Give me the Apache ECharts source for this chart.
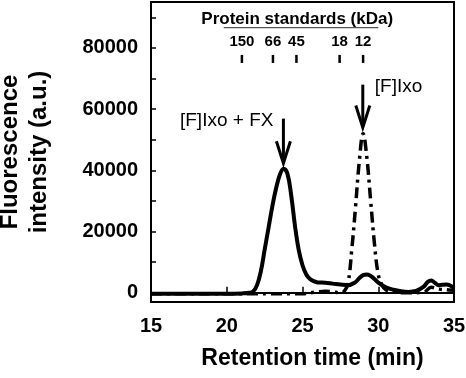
<!DOCTYPE html>
<html>
<head>
<meta charset="utf-8">
<script src="https://cdn.jsdelivr.net/npm/echarts@6/dist/echarts.min.js"></script>
<style>
  html, body { margin: 0; padding: 0; background: #fff; }
  #chart { width: 466px; height: 378px; }
</style>
</head>
<body>
<div id="chart"></div>
<script>
// retention time (min) / fluorescence (a.u.)
var complexTimes = [15, 16, 17, 18, 19, 20, 21, 21.5, 21.75, 22, 22.25, 22.5, 22.75, 23, 23.25, 23.5, 23.75, 24, 24.25, 24.5, 24.75, 25, 25.25, 25.5, 25.75, 26, 26.5, 27, 27.5, 28, 28.5, 28.75, 29, 29.25, 29.5, 29.75, 30, 30.5, 31, 31.5, 32, 32.5, 33, 33.25, 33.5, 33.75, 34, 34.5, 35];
var complexValues = [-300, -300, -300, -300, -300, -300, -200, 0, 500, 2500, 7000, 14000, 21000, 28000, 34000, 38500, 40500, 39000, 32000, 22000, 14000, 9000, 6000, 4500, 3800, 3400, 3300, 3000, 2700, 2500, 3500, 4800, 5800, 6000, 5500, 4500, 3300, 1800, 1000, 500, 300, 600, 2000, 3500, 4000, 3200, 2500, 2700, 1500];

var ixoTimes = [15, 17, 19, 21, 23, 25, 25.5, 26, 26.5, 27, 27.5, 27.75, 28, 28.25, 28.5, 28.75, 29, 29.25, 29.5, 29.75, 30, 30.25, 30.5, 31, 32, 33, 33.5, 34, 34.5, 35];
var ixoValues = [-300, -300, -300, -300, -300, -300, 0, 300, 500, 300, 0, 500, 3000, 14000, 28000, 43000, 52000, 44000, 30000, 16000, 6000, 2500, 1000, 300, 0, 200, 1800, 1200, 1000, 800];

var standardNames = ['150', '66', '45', '18', '12'];
var standardTimes = [21.0, 23.05, 24.6, 27.45, 29.0];
var standardLevel = 76400;

var yLabelValues = [0, 20000, 40000, 60000, 80000];
var yTickValues = [0, 10000, 20000, 30000, 40000, 50000, 60000, 70000, 80000, 90000];

// arrows: [time, top value, tip value, label]
var arrows = [
  { t: 23.74, top: 56900, tip: 42300, text: '[F]Ixo + FX', side: 'left' },
  { t: 28.98, top: 68000, tip: 54000, text: '[F]Ixo', side: 'right' }
];

function pairs(xs, ys) {
  return xs.map(function (x, i) { return [x, ys[i]]; });
}

var chart = echarts.init(document.getElementById('chart'));
var font = 'Liberation Sans, Arial, sans-serif';

chart.setOption({
  animation: false,
  grid: {
    left: 151, right: 12, top: 2, bottom: 76,
    outerBoundsMode: 'none', containLabel: false,
    show: true, borderColor: '#000', borderWidth: 2
  },
  xAxis: {
    type: 'value', min: 15, max: 35, interval: 5,
    name: 'Retention time (min)', nameLocation: 'middle', nameGap: 45,
    nameTextStyle: { fontFamily: font, fontWeight: 'bold', fontSize: 23, color: '#000', padding: [0, 0, 0, 20] },
    axisLine: { lineStyle: { color: '#000', width: 2 } },
    axisTick: { inside: true, length: 6, lineStyle: { color: '#000', width: 1.5 } },
    axisLabel: { fontFamily: font, fontWeight: 'bold', fontSize: 20, color: '#000', margin: 14 },
    splitLine: { show: false }
  },
  yAxis: {
    type: 'value', min: -3000, max: 95000,
    name: 'Fluorescence\nintensity (a.u.)', nameLocation: 'middle', nameGap: 97,
    nameTextStyle: { fontFamily: font, fontWeight: 'bold', fontSize: 24, color: '#000', lineHeight: 29 },
    axisLine: { lineStyle: { color: '#000', width: 2 } },
    axisTick: { inside: true, length: 5, customValues: yTickValues, lineStyle: { color: '#000', width: 1.5 } },
    axisLabel: {
      customValues: yLabelValues, fontFamily: font, fontWeight: 'bold', fontSize: 20, color: '#000', margin: 13,
      formatter: function (v) { return String(v); }
    },
    splitLine: { show: false }
  },
  series: [
    {
      name: '[F]Ixo + FX', type: 'line', smooth: 0.4, showSymbol: false,
      data: pairs(complexTimes, complexValues),
      lineStyle: { color: '#000', width: 4 }
    },
    {
      name: '[F]Ixo', type: 'line', smooth: 0.4, showSymbol: false,
      data: pairs(ixoTimes, ixoValues),
      lineStyle: { color: '#000', width: 3.5, type: [11, 5, 3, 5] }
    },
    {
      name: 'standards', type: 'scatter', symbol: 'rect', symbolSize: [2.5, 8],
      itemStyle: { color: '#000', opacity: 1 },
      data: standardTimes.map(function (t, i) { return { value: [t, standardLevel], name: standardNames[i] }; }),
      label: {
        show: true, position: 'top', distance: 6, formatter: '{b}',
        fontFamily: font, fontWeight: 'bold', fontSize: 15, color: '#000', textBorderWidth: 0
      }
    }
  ]
});

// annotations placed through the axes' own scales
var g = [];
var a = chart.convertToPixel({ gridIndex: 0 }, [19.8, 86600]);
var b = chart.convertToPixel({ gridIndex: 0 }, [30.0, 86600]);
g.push({ type: 'line', shape: { x1: a[0], y1: a[1], x2: b[0], y2: b[1] }, style: { stroke: '#555', lineWidth: 1.2 } });
var tp = chart.convertToPixel({ gridIndex: 0 }, [24.65, 89300]);
g.push({ type: 'text', x: tp[0], y: tp[1], style: { text: 'Protein standards (kDa)', fontFamily: font, fontWeight: 'bold', fontSize: 17, fill: '#000', align: 'center', verticalAlign: 'middle' } });

arrows.forEach(function (ar) {
  var top = chart.convertToPixel({ gridIndex: 0 }, [ar.t, ar.top]);
  var tip = chart.convertToPixel({ gridIndex: 0 }, [ar.t, ar.tip]);
  g.push({ type: 'line', shape: { x1: top[0], y1: top[1], x2: tip[0], y2: tip[1] - 2 }, style: { stroke: '#000', lineWidth: 3 } });
  g.push({ type: 'polyline', shape: { points: [[tip[0] - 7, tip[1] - 22], [tip[0], tip[1]], [tip[0] + 7, tip[1] - 22]] }, style: { stroke: '#000', lineWidth: 3, fill: null } });
  var lx = ar.side === 'left' ? top[0] - 10 : top[0] + 12;
  g.push({ type: 'text', x: lx, y: top[1] + 2, style: { text: ar.text, fontFamily: font, fontSize: 19, fill: '#000', align: ar.side === 'left' ? 'right' : 'left', verticalAlign: 'middle' } });
});

chart.setOption({ graphic: g });
</script>
</body>
</html>
